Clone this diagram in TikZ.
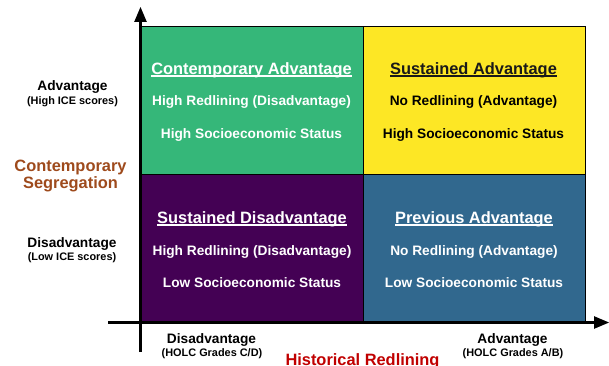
\documentclass[tikz,border=0pt]{standalone}
\usepackage{fontspec}
\setmainfont{Liberation Sans}
\usetikzlibrary{arrows}

\definecolor{quadgreen}{HTML}{35B779}
\definecolor{quadyellow}{HTML}{FDE725}
\definecolor{quadpurple}{HTML}{440154}
\definecolor{quadblue}{HTML}{31688E}
\definecolor{segbrown}{HTML}{9E4A1C}
\definecolor{redlinered}{HTML}{C00000}

% underlined quadrant title
\newcommand{\undertitle}[1]{\setbox0\hbox{#1}\rlap{\rule[-2.8pt]{\wd0}{1.4pt}}\box0}

\begin{document}
\begin{tikzpicture}[x=1pt,y=-1pt,>=triangle 45]
				\tikzstyle{quad} = [draw=black,line width=1pt,minimum width=222pt,minimum height=148pt,inner sep=0pt];
				\tikzstyle{title} = [anchor=base,font=\bfseries\fontsize{16.4}{18}\selectfont];
				\tikzstyle{entry} = [anchor=base,font=\bfseries\fontsize{13.7}{15}\selectfont];
				\tikzstyle{note} = [anchor=base,font=\bfseries\fontsize{10.9}{12}\selectfont];
				\useasboundingbox (0,0) rectangle (609,365);
				% quadrants
				\node[quad,fill=quadgreen] (ca) at (252,100) {};
				\node[quad,fill=quadyellow] (sa) at (474,100) {};
				\node[quad,fill=quadpurple] (sd) at (252,248) {};
				\node[quad,fill=quadblue] (pa) at (474,248) {};
				% axes
				\coordinate (ybot) at (140.5,352);
				\coordinate (ytop) at (140.5,7);
				\coordinate (xleft) at (108,322.5);
				\coordinate (xright) at (609,322.5);
				\draw[->,line width=2.5pt] (ybot) -- (ytop);
				\draw[->,line width=2.5pt] (xleft) -- (xright);
				% quadrant texts
				\node[title,white] (catitle) at (251.5,74) {\undertitle{Contemporary Advantage}};
				\node[entry,white] (caline1) at (251.5,105) {High Redlining (Disadvantage)};
				\node[entry,white] (caline2) at (251.5,138) {High Socioeconomic Status};
				\node[title,black!90] (satitle) at (473.5,74) {\undertitle{Sustained Advantage}};
				\node[entry,black] (saline1) at (473.5,105) {No Redlining (Advantage)};
				\node[entry,black] (saline2) at (473.5,138) {High Socioeconomic Status};
				\node[title,white] (sdtitle) at (252,223) {\undertitle{Sustained Disadvantage}};
				\node[entry,white] (sdline1) at (252,255) {High Redlining (Disadvantage)};
				\node[entry,white] (sdline2) at (252,287) {Low Socioeconomic Status};
				\node[title,white] (patitle) at (474,223) {\undertitle{Previous Advantage}};
				\node[entry,white] (paline1) at (474,255) {No Redlining (Advantage)};
				\node[entry,white] (paline2) at (474,287) {Low Socioeconomic Status};
				% vertical axis labels
				\node[entry] (yadv) at (72.5,90) {Advantage};
				\node[note] (yadvnote) at (72.5,104) {(High ICE scores)};
				\node[title,segbrown] (yname1) at (70.5,171) {Contemporary};
				\node[title,segbrown] (yname2) at (70.5,188) {Segregation};
				\node[entry] (ydis) at (72,247) {Disadvantage};
				\node[note] (ydisnote) at (72,260) {(Low ICE scores)};
				% horizontal axis labels
				\node[entry] (xdis) at (211.5,343) {Disadvantage};
				\node[note] (xdisnote) at (212,356) {(HOLC Grades C/D)};
				\node[entry] (xadv) at (512.5,343) {Advantage};
				\node[note] (xadvnote) at (513,356) {(HOLC Grades A/B)};
				\node[title,redlinered] (xname) at (362.5,365) {Historical Redlining};
			\end{tikzpicture}
\end{document}
